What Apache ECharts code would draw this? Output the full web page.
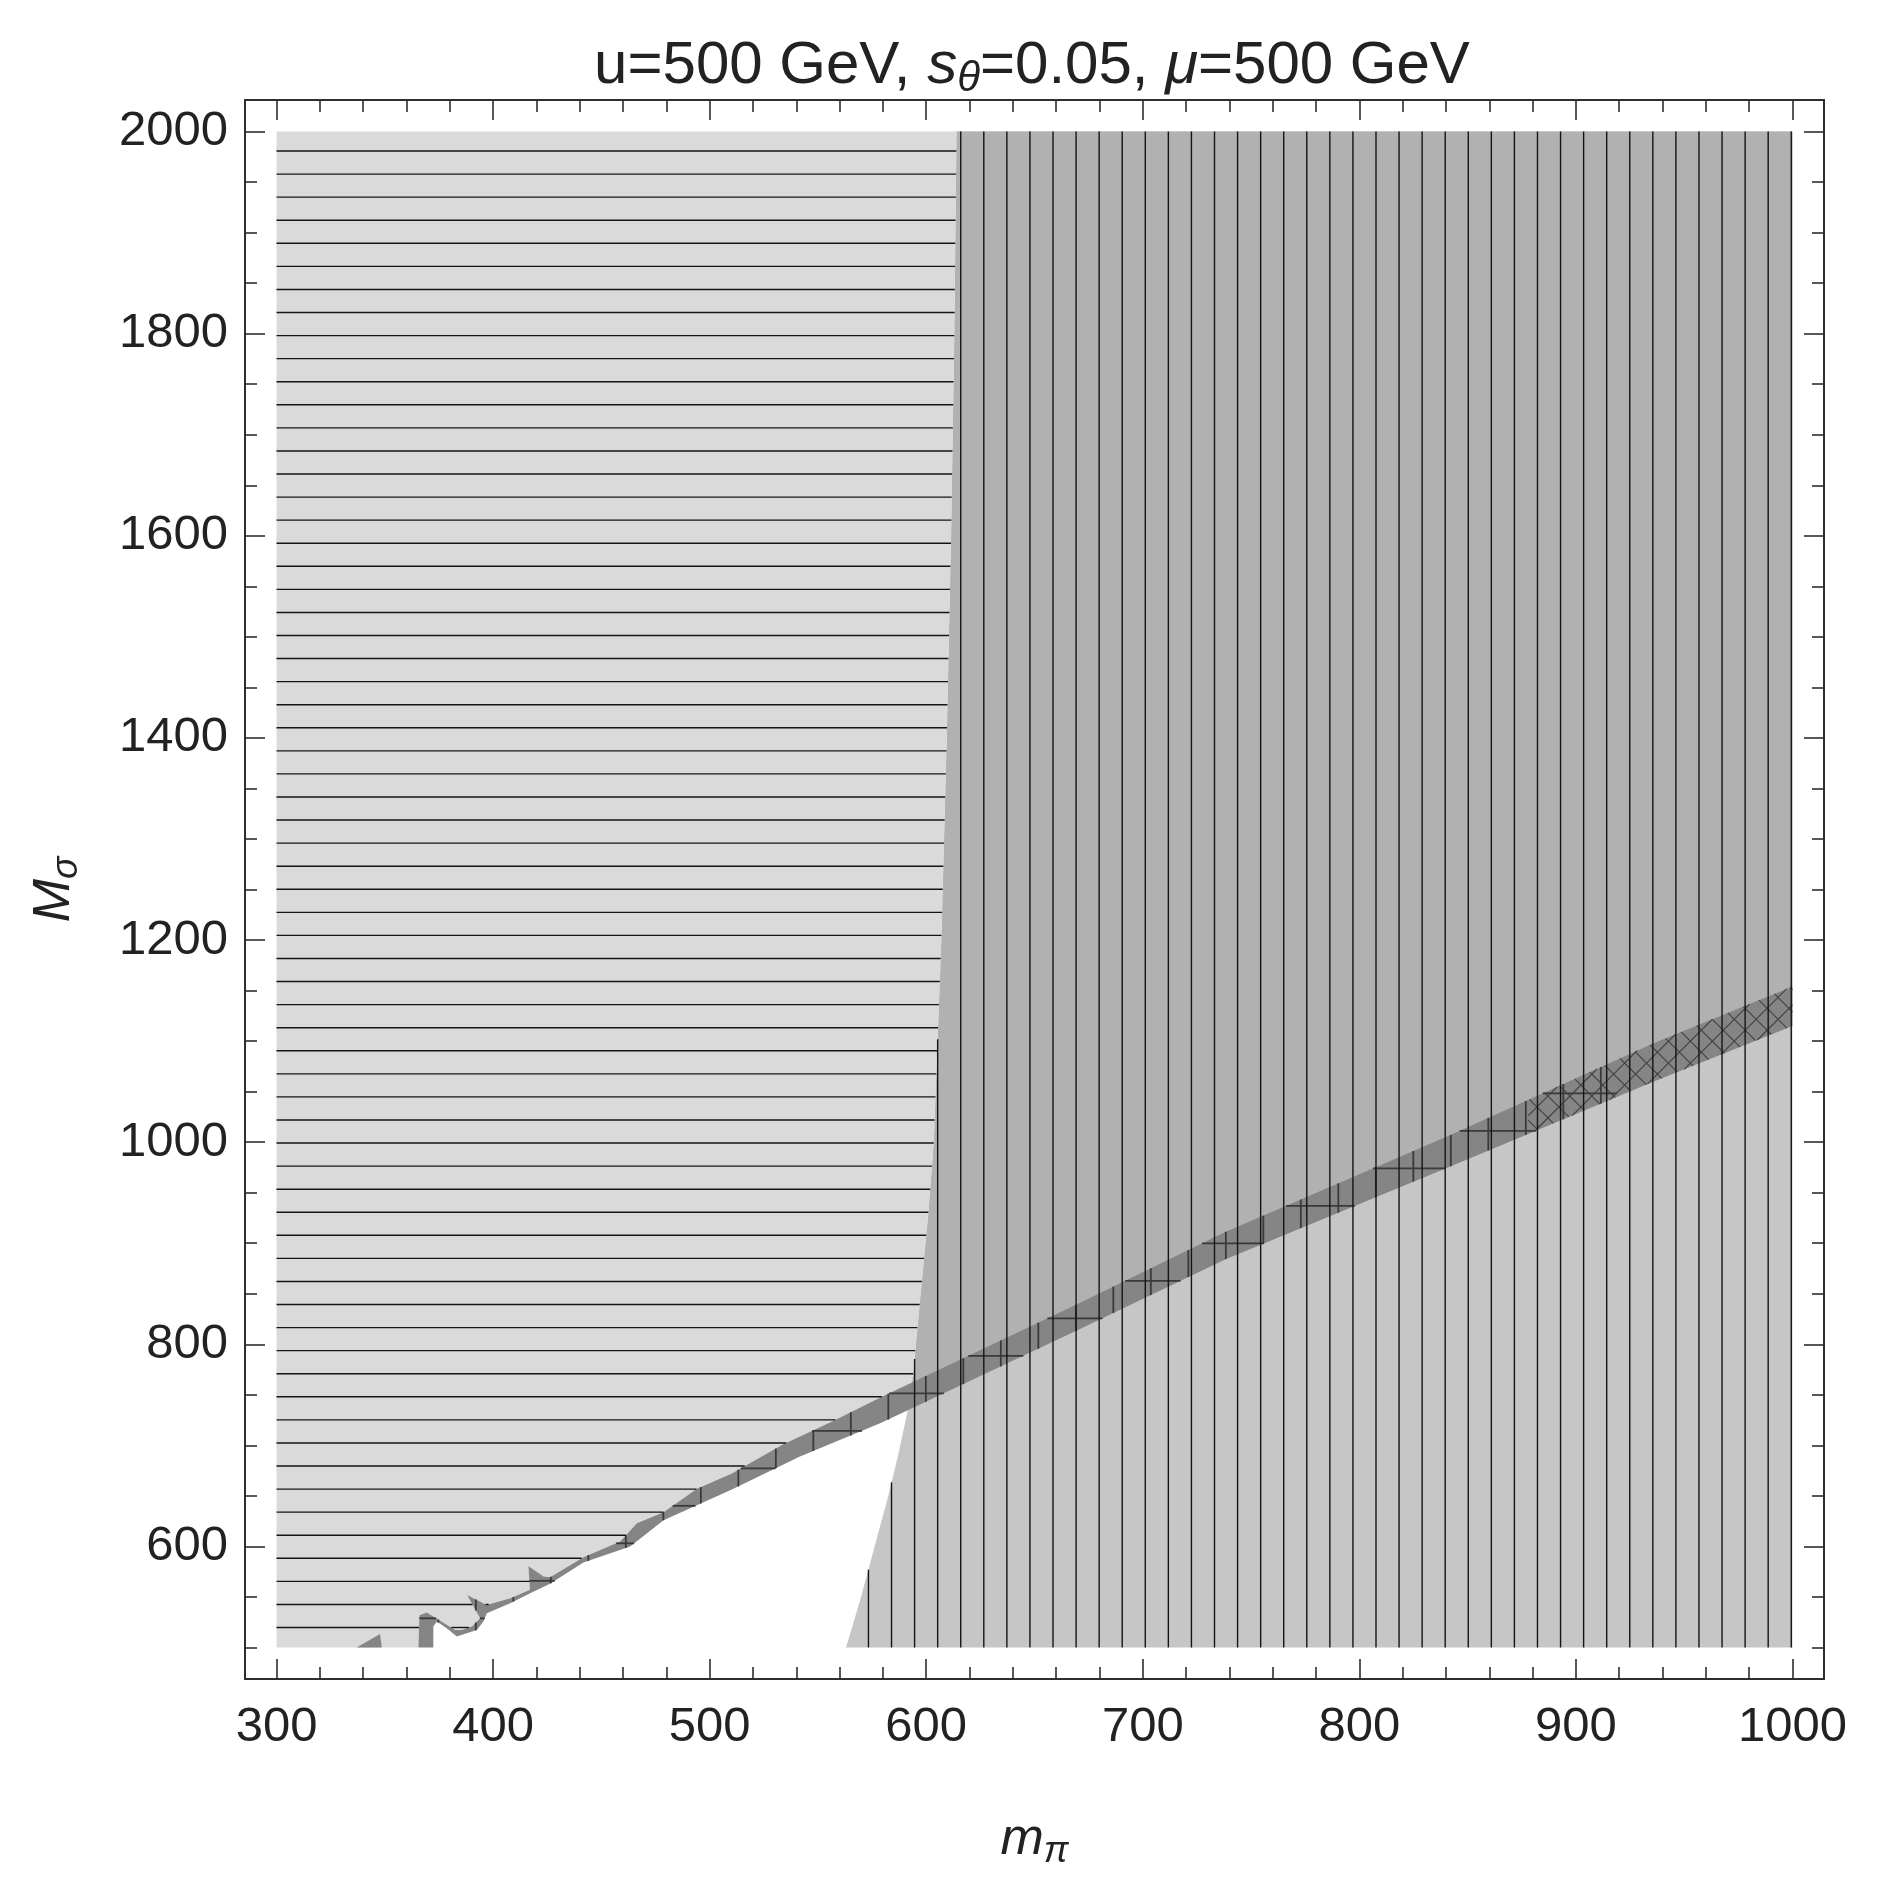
<!DOCTYPE html>
<html><head><meta charset="utf-8">
<script src="https://cdn.jsdelivr.net/npm/echarts@6/dist/echarts.min.js"></script>
<style>html,body{margin:0;padding:0;background:#fff}#c{width:1891px;height:1883px}</style>
</head><body><div id="c"></div>
<script>
// ================= DATA =================
const xRange = [300, 1000];
const yRange = [500, 2000];
const xMajorTicks = [300, 400, 500, 600, 700, 800, 900, 1000];
const xMinorTicks = [320,340,360,380,420,440,460,480,520,540,560,580,620,640,660,680,720,740,760,780,820,840,860,880,920,940,960,980];
const yMajorTicks = [600, 800, 1000, 1200, 1400, 1600, 1800, 2000];
const yMinorTicks = [500,550,650,700,750,850,900,950,1050,1100,1150,1250,1300,1350,1450,1500,1550,1650,1700,1750,1850,1900,1950];

// steep boundary of the right (vertically hatched) region: m_pi as a function of M_sigma
const boundaryMpi  = [563, 569.5, 573.7, 577.8, 582, 587, 591.5, 594, 595, 596, 597, 598, 601, 603.5, 607, 609.5, 611.5, 613, 614];
const boundaryMsig = [500, 547, 580, 613, 646, 690, 735, 771, 794, 817, 840, 862, 930, 1000, 1200, 1400, 1600, 1800, 2000];

// dark band: upper edge (left to right) and lower edge (right to left)
const bandUpperMpi  = [365.5, 366, 369.4, 372.4, 382.5, 385.5, 390.2, 394, 388, 397, 408, 417, 416.3, 423.3, 426.3, 441.7, 458.7, 466.4, 478.7, 494.1, 510, 534, 557, 579.5, 671, 738, 842, 936, 1000];
const bandUpperMsig = [500, 532, 534.5, 530.6, 517.4, 517.4, 520.7, 529, 552, 542, 548.7, 557, 580.7, 570.2, 569.5, 589.3, 604.8, 622.9, 633.8, 657, 672, 701, 724, 748, 841, 911, 1007, 1098, 1154];
const bandLowerMpi  = [1000, 936, 842, 738, 671, 579, 541.7, 510, 478.7, 463.3, 441.7, 426.3, 417.1, 407.9, 397.1, 395.5, 392.5, 387.8, 383.2, 378.6, 374, 372.4, 372.4];
const bandLowerMsig = [1115, 1060, 976, 884, 815, 722, 689, 656, 626, 600, 584, 563, 553.7, 543.8, 533.9, 525.6, 517.4, 514.1, 510.8, 519, 525.6, 520.7, 500];
// small isolated piece of the band near the bottom
const bandPatchMpi  = [337, 347.8, 348.6];
const bandPatchMsig = [500, 513.4, 500];
// band hatching switches from grid to crosshatch around these m_pi values
const bandGridUntil = 919;
const bandCrossFrom = 878;

// ================= HELPERS =================
const zip = (xs, ys) => xs.map((x, i) => [x, ys[i]]);
function segIntersect(p1, p2, p3, p4) {
  const d = (p2[0]-p1[0])*(p4[1]-p3[1]) - (p2[1]-p1[1])*(p4[0]-p3[0]);
  if (Math.abs(d) < 1e-12) return null;
  const t = ((p3[0]-p1[0])*(p4[1]-p3[1]) - (p3[1]-p1[1])*(p4[0]-p3[0])) / d;
  const u = ((p3[0]-p1[0])*(p2[1]-p1[1]) - (p3[1]-p1[1])*(p2[0]-p1[0])) / d;
  if (t < 0 || t > 1 || u < 0 || u > 1) return null;
  return [p1[0] + t*(p2[0]-p1[0]), p1[1] + t*(p2[1]-p1[1])];
}
function clipHalf(poly, xc, keepRight) {
  const out = [];
  const inside = p => keepRight ? p[0] >= xc : p[0] <= xc;
  for (let i = 0; i < poly.length; i++) {
    const a = poly[i], b = poly[(i+1) % poly.length];
    const ia = inside(a), ib = inside(b);
    if (ia) out.push(a);
    if (ia !== ib) {
      const t = (xc - a[0]) / (b[0] - a[0]);
      out.push([xc, a[1] + t*(b[1]-a[1])]);
    }
  }
  return out;
}
function hatchSegments(poly, phiDeg, spacing, ref, offset) {
  const phi = phiDeg * Math.PI / 180;
  const n = [Math.cos(phi), Math.sin(phi)], d = [-Math.sin(phi), Math.cos(phi)];
  const proj = p => n[0]*p[0] + n[1]*p[1];
  let mn = Infinity, mx = -Infinity;
  poly.forEach(p => { const v = proj(p); if (v < mn) mn = v; if (v > mx) mx = v; });
  const c0 = proj(ref) + offset;
  const k0 = Math.ceil((mn - c0) / spacing), k1 = Math.floor((mx - c0) / spacing);
  const segs = [];
  for (let k = k0; k <= k1; k++) {
    const c = c0 + k*spacing;
    const us = [];
    for (let i = 0; i < poly.length; i++) {
      const a = poly[i], b = poly[(i+1) % poly.length];
      const sa = proj(a) - c, sb = proj(b) - c;
      if ((sa < 0 && sb >= 0) || (sb < 0 && sa >= 0)) {
        const t = sa / (sa - sb);
        const px = a[0] + t*(b[0]-a[0]), py = a[1] + t*(b[1]-a[1]);
        us.push(d[0]*px + d[1]*py);
      }
    }
    us.sort((a, b) => a - b);
    for (let j = 0; j + 1 < us.length; j += 2) {
      segs.push([[n[0]*c + d[0]*us[j], n[1]*c + d[1]*us[j]], [n[0]*c + d[0]*us[j+1], n[1]*c + d[1]*us[j+1]]]);
    }
  }
  return segs;
}

// ================= GEOMETRY (data space) =================
const curve = zip(boundaryMpi, boundaryMsig);
const upper = zip(bandUpperMpi, bandUpperMsig);
const lower = zip(bandLowerMpi, bandLowerMsig);
let cross = null, ci = -1, uj = -1;
for (let i = 0; i + 1 < curve.length && !cross; i++) {
  for (let j = 0; j + 1 < upper.length; j++) {
    const p = segIntersect(curve[i], curve[i+1], upper[j], upper[j+1]);
    if (p) { cross = p; ci = i; uj = j; break; }
  }
}
const polyLeft = [[xRange[0], yRange[0]], [xRange[0], yRange[1]]];
for (let i = curve.length - 1; i > ci; i--) polyLeft.push(curve[i]);
polyLeft.push(cross);
for (let j = uj; j >= 0; j--) polyLeft.push(upper[j]);

const polyRight = curve.slice().concat([[xRange[1], yRange[1]], [xRange[1], yRange[0]]]);

const polyRightUpper = [cross];
for (let i = ci + 1; i < curve.length; i++) polyRightUpper.push(curve[i]);
polyRightUpper.push([xRange[1], yRange[1]]);
for (let j = upper.length - 1; j > uj; j--) polyRightUpper.push(upper[j]);

const polyBand = upper.concat(lower);
const polyPatch = zip(bandPatchMpi, bandPatchMsig);

// ================= RENDER =================
const FONT = 'Liberation Sans';
const padX = (xRange[1] - xRange[0]) * 0.0208;
const padY = (yRange[1] - yRange[0]) * 0.0208;
const xMin = xRange[0] - padX, xMax = xRange[1] + padX;
const yMin = yRange[0] - padY, yMax = yRange[1] + padY;

function renderAll(params, api) {
  const toPx = pts => pts.map(p => api.coord(p));
  const ch = [];
  const fillPoly = (pts, fill) => ch.push({type: 'polygon', shape: {points: toPx(pts)}, style: {fill: fill, stroke: null}});
  const addSegs = (segs, color, w) => segs.forEach(s => ch.push({type: 'line', shape: {x1: s[0][0], y1: s[0][1], x2: s[1][0], y2: s[1][1]}, style: {stroke: color, lineWidth: w}}));
  const ref = api.coord([xRange[0], yRange[1]]);

  fillPoly(polyRight, '#c6c6c6');
  fillPoly(polyRightUpper, '#b1b1b1');
  fillPoly(polyLeft, '#dadada');
  fillPoly(polyBand, '#858585');
  fillPoly(polyPatch, '#858585');

  // band grid (left/middle part) and crosshatch (right part)
  const bandGridPx = toPx(clipHalf(polyBand, bandGridUntil, false));
  addSegs(hatchSegments(bandGridPx, 0, 37.5, ref, 11.8), '#3a3a3a', 1.8);
  addSegs(hatchSegments(bandGridPx, 90, 37.5, ref, 24.3), '#3a3a3a', 1.8);
  const bandCrossPx = toPx(clipHalf(polyBand, bandCrossFrom, true));
  addSegs(hatchSegments(bandCrossPx, 45, 15.5, ref, 0), '#404040', 1.1);
  addSegs(hatchSegments(bandCrossPx, 135, 15.5, ref, 0), '#404040', 1.1);

  // left region: horizontal lines; right region: vertical lines
  addSegs(hatchSegments(toPx(polyLeft), 90, 23.07, ref, 19.5), '#141414', 1.4);
  addSegs(hatchSegments(toPx(polyRight), 0, 23.07, ref, 15.17), '#141414', 1.4);
  return {type: 'group', children: ch};
}

const axisColor = '#2e2e2e';
const labelStyle = {fontFamily: FONT, fontSize: 49, color: '#222', fontWeight: 'normal', formatter: v => String(v)};
function xAxisCfg(position, ticks, len, showLabels, showLine, extra) {
  return Object.assign({
    type: 'value', position: position, min: xMin, max: xMax, gridIndex: 0,
    axisLine: {show: showLine, onZero: false, lineStyle: {color: axisColor, width: 2}},
    axisTick: {show: true, inside: true, length: len, customValues: ticks, lineStyle: {color: axisColor, width: 1.6}},
    axisLabel: showLabels ? Object.assign({show: true, customValues: ticks, margin: 24}, labelStyle) : {show: false},
    splitLine: {show: false}
  }, extra || {});
}
function yAxisCfg(position, ticks, len, showLabels, showLine, extra) {
  return Object.assign({
    type: 'value', position: position, min: yMin, max: yMax, gridIndex: 0,
    axisLine: {show: showLine, onZero: false, lineStyle: {color: axisColor, width: 2}},
    axisTick: {show: true, inside: true, length: len, customValues: ticks, lineStyle: {color: axisColor, width: 1.6}},
    axisLabel: showLabels ? Object.assign({show: true, customValues: ticks, margin: 17}, labelStyle) : {show: false},
    splitLine: {show: false}
  }, extra || {});
}
const nameRich = {
  i: {fontFamily: FONT, fontSize: 52, fontStyle: 'italic', fontWeight: 'normal', color: '#222'},
  s: {fontFamily: FONT, fontSize: 37, fontStyle: 'italic', fontWeight: 'normal', color: '#222', padding: [24, 0, 0, 0]}
};

const chart = echarts.init(document.getElementById('c'), null, {renderer: 'canvas', width: 1891, height: 1883});
chart.setOption({
  animation: false,
  backgroundColor: '#ffffff',
  title: {
    text: '{r|u=500 GeV, }{i|s}{sub|θ}{r|=0.05, }{i|μ}{r|=500 GeV}',
    left: 1027, top: 27, textAlign: 'center',
    textStyle: {
      fontWeight: 'normal', fontFamily: FONT, fontSize: 60, color: '#222',
      rich: {
        r: {fontFamily: FONT, fontSize: 60, fontWeight: 'normal', color: '#222'},
        i: {fontFamily: FONT, fontSize: 60, fontStyle: 'italic', fontWeight: 'normal', color: '#222'},
        sub: {fontFamily: FONT, fontSize: 42, fontStyle: 'italic', fontWeight: 'normal', color: '#222', padding: [26, 0, 0, 0]}
      }
    }
  },
  grid: {left: 245, top: 100, width: 1579, height: 1579, containLabel: false},
  xAxis: [
    xAxisCfg('bottom', xMajorTicks, 20, true, true, {
      name: '{i|m}{s|π}', nameLocation: 'middle', nameGap: 130,
      nameTextStyle: {fontWeight: 'normal', rich: nameRich}
    }),
    xAxisCfg('bottom', xMinorTicks, 12, false, false),
    xAxisCfg('top', xMajorTicks, 20, false, true),
    xAxisCfg('top', xMinorTicks, 12, false, false)
  ],
  yAxis: [
    yAxisCfg('left', yMajorTicks, 20, true, true, {
      name: '{i|M}{s|σ}', nameLocation: 'middle', nameGap: 160,
      nameTextStyle: {fontWeight: 'normal', rich: nameRich}
    }),
    yAxisCfg('left', yMinorTicks, 12, false, false),
    yAxisCfg('right', yMajorTicks, 20, false, true),
    yAxisCfg('right', yMinorTicks, 12, false, false)
  ],
  series: [{
    type: 'custom',
    xAxisIndex: 0, yAxisIndex: 0,
    coordinateSystem: 'cartesian2d',
    clip: false,
    silent: true,
    renderItem: renderAll,
    data: [[xRange[0], yRange[0]]],
    z: 1
  }]
});
</script>
</body></html>
